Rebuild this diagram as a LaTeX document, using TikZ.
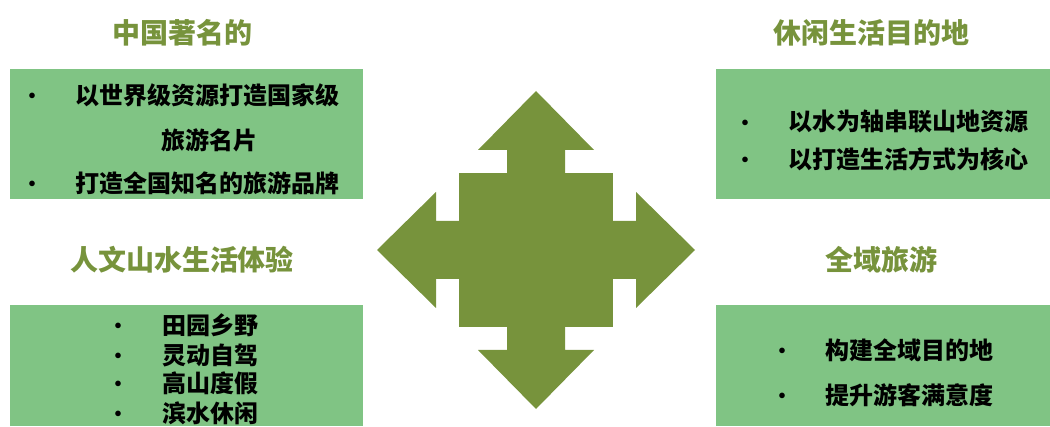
\documentclass[tikz,border=0pt]{standalone}
\usepackage{fontspec}
\newfontfamily\cjk{Noto Sans CJK SC}
\usepackage{xcolor}
\definecolor{boxgreen}{HTML}{80C484}
\definecolor{olivegreen}{HTML}{77933C}
\tikzset{
  box/.style={fill=boxgreen},
  heading/.style={text=olivegreen, inner sep=0pt, font=\cjk\bfseries\fontsize{28}{28}\selectfont},
  item/.style={anchor=west, inner sep=0pt, font=\cjk\bfseries\fontsize{24}{24}\selectfont},
  bullet/.style={inner sep=0pt, yshift=-3pt, font=\cjk\bfseries\fontsize{20}{20}\selectfont}
}

\begin{document}
\begin{tikzpicture}[x=1pt,y=1pt]
      \useasboundingbox (0,0) rectangle (1050,426);

      % draw boxes
      \fill[box] (10,227) rectangle (363,357);
      \fill[box] (716,227) rectangle (1050,357);
      \fill[box] (10,0) rectangle (363,121);
      \fill[box] (716,0) rectangle (1050,121);

      % draw cross arrow
      \begin{scope}[shift={(536,176)}, olivegreen]
       \fill (-77,-77) rectangle (77,77);
       \foreach \a in {0,90,180,270}
       \fill[rotate=\a] (77,-29) -- (100,-29) -- (100,-58) -- (159,0)
            -- (100,58) -- (100,29) -- (77,29) -- cycle;
      \end{scope}

      % draw headings
      \node[heading] (h1) at (182,393) {中国著名的};
      \node[heading] (h2) at (871,393) {休闲生活目的地};
      \node[heading] (h3) at (182,166) {人文山水生活体验};
      \node[heading] (h4) at (881,166) {全域旅游};

      % draw items
      \node[item] (a1) at (75,331) {以世界级资源打造国家级};
      \node[item, anchor=center] (a2) at (209,286) {旅游名片};
      \node[item] (a3) at (75,243) {打造全国知名的旅游品牌};
      \foreach \y/\n in {331/1,243/3}
       \node[bullet] (ba\n) at (32,\y) {•};

      \node[item] (b1) at (788,304) {以水为轴串联山地资源};
      \node[item] (b2) at (788,267) {以打造生活方式为核心};
      \foreach \y/\n in {304/1,267/2}
       \node[bullet] (bb\n) at (745,\y) {•};

      \node[item] (c1) at (162,101) {田园乡野};
      \node[item] (c2) at (162,71) {灵动自驾};
      \node[item] (c3) at (162,43) {高山度假};
      \node[item] (c4) at (162,13) {滨水休闲};
      \foreach \y/\n in {101/1,71/2,43/3,13/4}
       \node[bullet] (bc\n) at (118,\y) {•};

      \node[item] (d1) at (825,76) {构建全域目的地};
      \node[item] (d2) at (825,31) {提升游客满意度};
      \foreach \y/\n in {76/1,31/2}
       \node[bullet] (bd\n) at (782,\y) {•};

\end{tikzpicture}
\end{document}
